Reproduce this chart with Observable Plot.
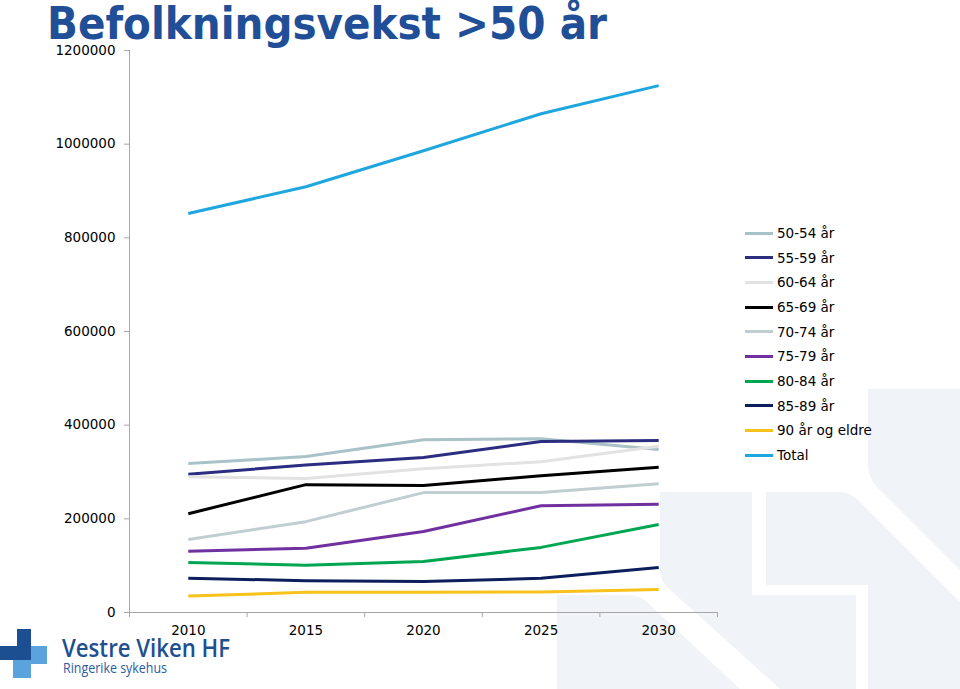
<!DOCTYPE html>
<html>
<head>
<meta charset="utf-8">
<script src="https://cdn.jsdelivr.net/npm/d3@7"></script>
<script src="https://cdn.jsdelivr.net/npm/@observablehq/plot@0.6"></script>
<style>
  html, body { margin: 0; padding: 0; background: #fff; }
  #wrap { position: relative; width: 960px; height: 689px; overflow: hidden; background: #fff; font-family: "DejaVu Sans", sans-serif; }
  #deco, #chart, #overlay { position: absolute; left: 0; top: 0; }
  #legend { position: absolute; left: 745px; top: 0; }
  .lg { position: absolute; left: 0; height: 16px; line-height: 16px; display: flex; align-items: center; white-space: nowrap; font-size: 13.5px; color: #000; }
  .sw { display: inline-block; width: 28px; height: 3px; margin-right: 4px; }
</style>
</head>
<body>
<div id="wrap">
  <svg id="deco" width="960" height="689">
    <g fill="#f0f4f9">
      <path d="M557,595 L628,595 Q640,595 648,603 L740,689 L557,689 Z"/>
      <path d="M660,492 L752,492 L752,595 L856,595 L856,689 L780,689 L668,588 Q660,580 660,570 Z"/>
      <path d="M766,492 L840,492 Q850,492 858,500 L960,602 L960,689 L868,689 L868,585 L766,585 Z"/>
      <path d="M868,389 L960,389 L960,570 L878,488 Q868,478 868,465 Z"/>
    </g>
  </svg>
  <div id="chart"></div>
  <svg id="overlay" width="960" height="689">
    <text x="47" y="39" font-family="DejaVu Sans" font-weight="bold" font-size="44" fill="#214f97" textLength="560" lengthAdjust="spacingAndGlyphs">Befolkningsvekst &gt;50 år</text>
    <g>
      <rect x="17" y="629" width="14" height="18" fill="#1c4f91"/>
      <rect x="0" y="646" width="31" height="14" fill="#1c4f91"/>
      <rect x="31" y="646" width="16" height="18" fill="#5aa3dc"/>
      <rect x="13" y="660" width="18" height="18" fill="#5aa3dc"/>
    </g>
    <text x="62" y="657" font-family="Open Sans" font-weight="600" font-size="25" fill="#1d4f91" textLength="168" lengthAdjust="spacingAndGlyphs">Vestre Viken HF</text>
    <text x="63" y="673" font-family="Open Sans" font-size="15" fill="#2b5c9e" textLength="104" lengthAdjust="spacingAndGlyphs">Ringerike sykehus</text>
  </svg>
  <div id="legend"></div>
</div>
<script>
// ---- Data ----
const years = [2010, 2015, 2020, 2025, 2030];
const seriesNames = ["50-54 år", "55-59 år", "60-64 år", "65-69 år", "70-74 år", "75-79 år", "80-84 år", "85-89 år", "90 år og eldre", "Total"];
const seriesColors = ["#a9c2c8", "#2c2d80", "#e2e2e2", "#000000", "#c0ced2", "#7030a0", "#00a651", "#0c1f5c", "#f6c21b", "#1ea6df"];
const v50_54 = [318000, 333000, 369000, 371000, 348000];
const v55_59 = [295000, 315000, 331000, 365000, 367000];
const v60_64 = [290000, 286000, 307000, 322000, 355000];
const v65_69 = [211000, 273000, 271000, 292000, 310000];
const v70_74 = [156000, 194000, 256000, 256000, 275000];
const v75_79 = [131000, 137000, 173000, 228000, 231000];
const v80_84 = [107000, 101000, 109000, 139000, 188000];
const v85_89 = [73000, 68000, 66000, 73000, 96000];
const v90plus = [35000, 43000, 43000, 44000, 49000];
const vTotal = [852000, 909000, 986000, 1065000, 1125000];
const yTicks = [0, 200000, 400000, 600000, 800000, 1000000, 1200000];

const seriesValues = [v50_54, v55_59, v60_64, v65_69, v70_74, v75_79, v80_84, v85_89, v90plus, vTotal];
const rows = [];
seriesNames.forEach((name, i) => {
  years.forEach((yr, j) => rows.push({series: name, year: yr, value: seriesValues[i][j]}));
});

// category band boundaries (x axis tick marks sit between the years)
const step = years[1] - years[0];
const bounds = [years[0] - step / 2, ...years.map(y => y + step / 2)];

const font = {fontFamily: "DejaVu Sans", fontSize: 13.5, fill: "#000"};

const chart = Plot.plot({
  width: 960,
  height: 689,
  marginLeft: 129,
  marginRight: 243,
  marginTop: 50,
  marginBottom: 77,
  style: {background: "transparent", fontFamily: "DejaVu Sans", fontSize: "13.5px", color: "#000"},
  x: {type: "linear", domain: [bounds[0], bounds[bounds.length - 1]]},
  y: {domain: [0, yTicks[yTicks.length - 1]]},
  color: {domain: seriesNames, range: seriesColors},
  marks: [
    Plot.ruleX([bounds[0]], {y1: yTicks[0], y2: yTicks[yTicks.length - 1], stroke: "#a6a6a6"}),
    Plot.ruleY([0], {stroke: "#a6a6a6"}),
    Plot.axisY({ticks: yTicks, tickSize: 5, tickPadding: 9, tickFormat: d => String(d), stroke: "#a6a6a6", label: null, ...font}),
    Plot.axisX({ticks: bounds, tickSize: 5, tickFormat: () => "", stroke: "#a6a6a6", label: null}),
    Plot.axisX({ticks: years, tickSize: 0, tickPadding: 13, tickFormat: d => String(d), label: null, ...font}),
    Plot.line(rows, {x: "year", y: "value", z: "series", stroke: "series", strokeWidth: 3, strokeLinecap: "butt"})
  ]
});
document.getElementById("chart").appendChild(chart);

// legend
const legend = document.getElementById("legend");
seriesNames.forEach((name, i) => {
  const row = document.createElement("div");
  row.className = "lg";
  row.style.top = (233 + i * 24.67 - 8) + "px";
  const sw = document.createElement("span");
  sw.className = "sw";
  sw.style.background = seriesColors[i];
  const tx = document.createElement("span");
  tx.textContent = name;
  row.appendChild(sw);
  row.appendChild(tx);
  legend.appendChild(row);
});
</script>
</body>
</html>
